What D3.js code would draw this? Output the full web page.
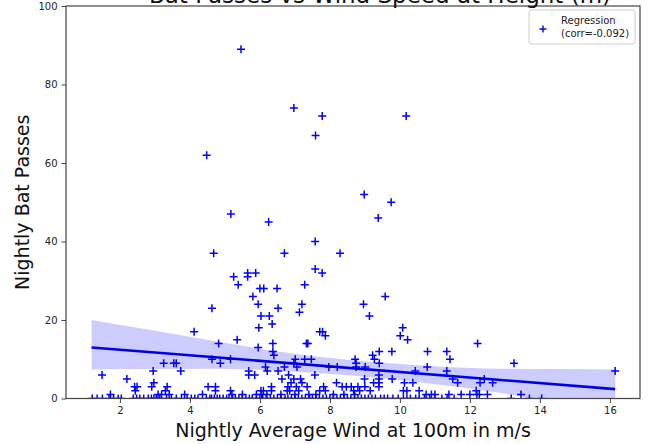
<!DOCTYPE html>
<html>
<head>
<meta charset="utf-8">
<script src="https://cdn.jsdelivr.net/npm/d3@7"></script>
<style>
  html, body { margin: 0; padding: 0; background: #fff; }
  svg { display: block; font-family: "DejaVu Sans", sans-serif; }
</style>
</head>
<body>
<svg id="chart" width="649" height="444"></svg>
<script>
// ---- data ----
const windSpeed = [
  5.46,4.48,6.97,7.78,7.59,10.18,5.17,6.25,8.98,9.38,9.75,7.58,4.68,6.70,8.29,
  5.25,5.65,5.65,5.88,5.38,7.58,7.78,7.28,6.00,6.11,6.49,5.80,9.58,5.95,7.20,8.96,4.63,6.52,7.13,9.13,6.03,6.27,6.35,5.97,10.08,
  7.71,7.79,7.87,4.12,10.01,10.22,5.35,7.33,7.37,4.82,6.37,12.22,6.37,6.40,5.95,9.22,9.27,9.41,9.41,9.77,10.79,11.34,11.43,
  8.72,8.75,8.75,9.01,10.44,10.78,11.34,11.51,11.65,12.29,12.41,12.65,13.26,16.15,13.46,
  4.87,4.63,5.16,7.01,7.28,7.47,6.97,7.06,6.16,6.21,5.68,5.68,5.85,6.52,6.70,6.82,6.63,7.57,7.97,8.21,
  6.89,6.97,7.04,7.16,7.20,7.11,6.80,6.85,6.78,8.19,8.35,8.47,8.61,7.82,7.87,7.71,7.35,6.33,6.33,6.03,6.10,6.05,5.16,5.20,4.73,4.73,8.68,8.71,
  1.49,2.20,3.25,3.54,3.61,2.95,3.74,2.42,2.49,2.44,2.91,2.97,3.35,3.30,4.52,1.73,3.09,3.19,3.41,3.85,4.36,
  9.40,9.40,9.40,9.40,8.99,9.78,10.13,10.37,8.80,9.00,9.15,9.25,8.85,10.10,10.20,10.55,10.75,12.18,12.27,11.40,10.90,11.00,
  13.18,13.70,14.05,
  1.21,1.35,1.50,1.69,1.82,1.95,2.04,2.38,2.48,2.57,2.68,2.81,2.90,2.97,3.04,3.14,3.33,3.47,3.61,3.76,3.92,4.04,4.14,4.23,4.47,4.57,
  4.62,4.70,4.78,4.85,4.95,5.05,5.12,5.22,5.30,5.40,5.50,5.60,5.70,5.78,5.90,6.00,6.08,6.18,6.30,6.40,6.50,6.60,6.72,6.80,6.90,
  7.00,7.10,7.20,7.30,7.42,7.50,7.60,7.70,7.80,7.90,8.00,8.10,8.20,8.30,8.40,8.50,8.60,8.70,
  8.80,8.90,9.00,9.10,9.20,9.30,9.45,9.55,9.65,9.80,9.95,10.10,10.20,10.30,10.45,10.55,10.70,10.85,11.00,11.20,11.35,11.55,11.75,12.00,12.20,12.50,
  5.50,5.90,6.20,6.60,7.00,7.40,7.60,8.10,8.40,9.10,9.50,9.90,10.40
];
const batPasses = [
  89,62,74,72,67,72,47,45,52,46,50,40,37,37,37,
  31,32,31,32,29,33,32,29,28,28,28,26,26,24,24,24,23,23,22,21,21,21,19,18,18,
  17,17,16,17,16,15,15,14,14,14,14,14,12,11,13,11,10,9,12,12,12,12,10,
  10,9,8,8,7,8,7,5,4,4,5,4,9,7,1,
  9,10,10,10,10,10,9,8,8,7,7,6,6,7,8,6,5,6,8,8,
  4,5,3,5,4,2,3,2,2,4,3,3,3,3,2,2,3,3,2,2,2,1,2,1,3,2,2,1,
  6,5,9,9,9,7,7,3,3,2,3,4,3,2,3,1,1,1,1,1,1,
  6,5,4,3,5,5,4,4,3,3,2,4,2,2,2,2,1,2,1,1,1,1,
  0,0,0,
  0,0,0,0,0,0,0,0,0,0,0,0,0,0,0,0,0,0,0,0,0,0,0,0,0,0,
  0,0,0,0,0,0,0,0,0,0,0,0,0,0,0,0,0,0,0,0,0,
  0,0,0,0,0,0,0,0,0,0,0,0,0,0,0,0,0,0,
  0,0,0,0,0,0,0,0,0,0,0,0,0,0,0,0,0,0,0,0,0,0,0,0,0,0,
  1,1,1,1,1,1,1,1,1,1,1,1,1
];
// regression line end points and confidence band
const regX = [1.19, 16.15];
const regY = [13.0, 2.4];
const bandX  = [1.19, 2.5, 4.6, 6.5, 8.7, 10.5, 12.8, 14.5, 16.15];
const bandLo = [7.4, 7.5, 7.6, 7.1, 5.8, 4.2, 1.5, -1.0, -2.6];
const bandHi = [20.0, 18.0, 14.8, 12.0, 9.7, 8.5, 7.6, 7.5, 7.4];
const xTicks = [2, 4, 6, 8, 10, 12, 14, 16];
const yTicks = [0, 20, 40, 60, 80, 100];
const legendLines = ["Regression", "(corr=-0.092)"];
const titleText = "Bat Passes vs Wind Speed at Height (m)";
const xLabel = "Nightly Average Wind at 100m in m/s";
const yLabel = "Nightly Bat Passes";

// ---- layout ----
const svg = d3.select("#chart");
const L = 66, R = 640, T = 6, B = 398.5;
const x = d3.scaleLinear().domain([0.46, 16.86]).range([L, R]);
const y = d3.scaleLinear().domain([0, 100]).range([B, T]);
const blue = "#0000ff";

svg.append("defs").append("clipPath").attr("id", "clip")
  .append("rect").attr("x", L).attr("y", T).attr("width", R - L).attr("height", B - T);

const plot = svg.append("g").attr("clip-path", "url(#clip)");

// band
const band = bandX.map((v, i) => ({x: v, lo: bandLo[i], hi: bandHi[i]}));
plot.append("path")
  .datum(band)
  .attr("fill", "rgb(204,204,255)")
  .attr("stroke", "none")
  .attr("d", d3.area().curve(d3.curveMonotoneX)
    .x(d => x(d.x)).y0(d => y(d.lo)).y1(d => y(d.hi)));

// points
const pts = windSpeed.map((v, i) => ({x: v, y: batPasses[i]}));
plot.append("g").selectAll("path").data(pts).enter().append("path")
  .attr("transform", d => `translate(${x(d.x)},${y(d.y)})`)
  .attr("d", "M-4,0H4M0,-4V4")
  .attr("stroke", blue)
  .attr("stroke-width", 1.5)
  .attr("fill", "none");

// regression line
plot.append("path")
  .datum(regX.map((v, i) => [v, regY[i]]))
  .attr("fill", "none")
  .attr("stroke", "#0000e6")
  .attr("stroke-width", 2.6)
  .attr("d", d3.line().x(d => x(d[0])).y(d => y(d[1])));

// axes
const axisColor = "#444";
const xAxis = svg.append("g").attr("transform", `translate(0,${B})`)
  .call(d3.axisBottom(x).tickValues(xTicks).tickSize(4.5).tickPadding(4).tickFormat(d3.format("d")));
const yAxis = svg.append("g").attr("transform", `translate(${L},0)`)
  .call(d3.axisLeft(y).tickValues(yTicks).tickSize(4.5).tickPadding(4).tickFormat(d3.format("d")));
[xAxis, yAxis].forEach(a => {
  a.select(".domain").remove();
  a.selectAll(".tick line").attr("stroke", axisColor).attr("stroke-width", 1);
  a.selectAll(".tick text").attr("fill", "#222").style("font-size", "10px")
    .style("font-family", "DejaVu Sans, sans-serif");
});

// frame (spines)
svg.append("rect").attr("x", L).attr("y", T).attr("width", R - L).attr("height", B - T)
  .attr("fill", "none").attr("stroke", axisColor).attr("stroke-width", 1.2);

// labels
svg.append("text").attr("x", (L + R) / 2).attr("y", 437)
  .attr("text-anchor", "middle").attr("fill", "#111").style("font-size", "19px").text(xLabel);
svg.append("text").attr("transform", `translate(29,${(T + B) / 2}) rotate(-90)`)
  .attr("text-anchor", "middle").attr("fill", "#111").style("font-size", "19px").text(yLabel);
svg.append("text").attr("x", 380).attr("y", 3)
  .attr("text-anchor", "middle").attr("fill", "#111").style("font-size", "23px").text(titleText);

// legend
const lg = svg.append("g");
lg.append("rect").attr("x", 529).attr("y", 10).attr("width", 106).attr("height", 34)
  .attr("rx", 2.5).attr("fill", "#fff").attr("stroke", "#ccc").attr("stroke-width", 1);
lg.append("path").attr("transform", "translate(543,29)").attr("d", "M-3.5,0H3.5M0,-3.5V3.5")
  .attr("stroke", blue).attr("stroke-width", 1.4).attr("fill", "none");
lg.selectAll("text.leg").data(legendLines).enter().append("text").attr("class", "leg")
  .attr("x", 561).attr("y", (d, i) => 24 + i * 13)
  .attr("fill", "#222").style("font-size", "10px").text(d => d);
</script>
</body>
</html>
